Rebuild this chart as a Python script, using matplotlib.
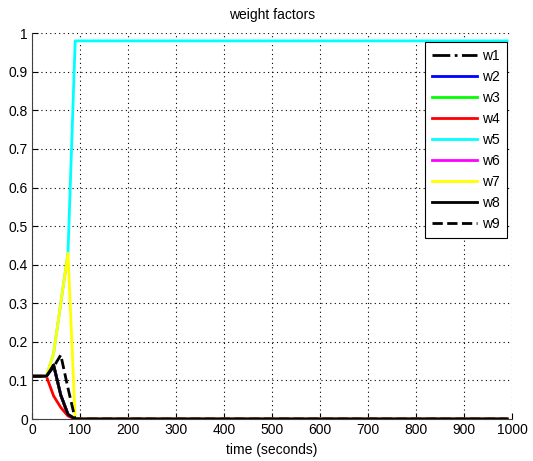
import matplotlib
matplotlib.use("Agg")
import matplotlib.pyplot as plt

# time samples (seconds)
t = [0, 30, 45, 60, 75, 90, 990]

# weight factors (w1, w2, w3, w6 lie under w8)
w1 = [0.111, 0.111, 0.14, 0.062, 0.012, 0.0, 0.0]
w2 = [0.111, 0.111, 0.14, 0.062, 0.012, 0.0, 0.0]
w3 = [0.111, 0.111, 0.14, 0.062, 0.012, 0.0, 0.0]
w4 = [0.111, 0.111, 0.06, 0.03, 0.008, 0.0, 0.0]
w5 = [0.111, 0.111, 0.17, 0.30, 0.43, 0.98, 0.98]
w6 = [0.111, 0.111, 0.14, 0.062, 0.012, 0.0, 0.0]
w7 = [0.111, 0.111, 0.17, 0.30, 0.43, 0.0, 0.0]
w8 = [0.111, 0.111, 0.14, 0.062, 0.012, 0.0, 0.0]
w9 = [0.111, 0.111, 0.135, 0.166, 0.08, 0.0, 0.0]

series = [w1, w2, w3, w4, w5, w6, w7, w8, w9]
labels = ["w1", "w2", "w3", "w4", "w5", "w6", "w7", "w8", "w9"]
colors = ["black", "blue", "#00ff00", "red", "cyan", "magenta", "yellow", "black", "black"]
styles = ["-.", "-", "-", "-", "-", "-", "-", "-", "--"]

plt.rcParams["font.family"] = ["Liberation Sans", "DejaVu Sans"]
plt.rcParams["font.size"] = 10
narrow = ["Liberation Sans Narrow", "Liberation Sans"]

fig = plt.figure(figsize=(5.33, 4.61), dpi=100)
ax = fig.add_axes([0.060, 0.091, 0.9006, 0.837])

for vals, lab, c, ls in zip(series, labels, colors, styles):
    ax.plot(t, vals, color=c, linestyle=ls, linewidth=2, label=lab)

ax.set_xlim(0, 1000)
ax.set_ylim(0, 1)
ax.set_xticks(range(0, 1001, 100))
ax.set_yticks([i / 10 for i in range(11)])
ax.set_yticklabels(["0", "0.1", "0.2", "0.3", "0.4", "0.5", "0.6", "0.7", "0.8", "0.9", "1"])
for lbl in ax.get_xticklabels() + ax.get_yticklabels():
    lbl.set_family(narrow)
    lbl.set_fontsize(10)
ax.grid(True, color="black", linestyle=(0, (1, 3)), linewidth=0.8)
ax.tick_params(direction="in", length=4, width=0.8, top=False, right=False, pad=3)
for side in ["top", "right"]:
    ax.spines[side].set_visible(False)
for side in ["left", "bottom"]:
    ax.spines[side].set_color("#404040")

ax.set_title("weight factors", fontsize=10, pad=10)
ax.set_xlabel("time (seconds)", fontsize=10, labelpad=4)

leg = ax.legend(loc="upper right", bbox_to_anchor=(0.99, 0.977), fancybox=False,
                framealpha=1, edgecolor="black", handlelength=3.2, labelspacing=0.5,
                borderaxespad=0, handletextpad=0.4, borderpad=0.5,
                prop={"family": narrow, "size": 10})
leg.get_frame().set_linewidth(0.8)

fig.savefig("out.png", dpi=100)
